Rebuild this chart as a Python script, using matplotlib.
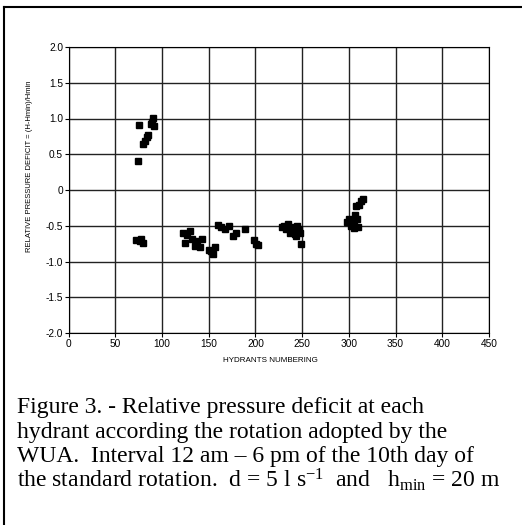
import numpy as np
from matplotlib import pyplot as plt
from matplotlib.lines import Line2D

plt.rcParams['font.family'] = ['Liberation Sans', 'DejaVu Sans']
plt.rcParams['mathtext.fontset'] = 'custom'
plt.rcParams['mathtext.rm'] = 'Liberation Serif'
plt.rcParams['mathtext.it'] = 'Liberation Serif:italic'

# hydrant number and relative pressure deficit
hyd_up = [74, 75, 80, 82, 84, 85, 88, 89, 90, 91]
dp_up = [0.41, 0.91, 0.65, 0.68, 0.74, 0.77, 0.92, 0.95, 1.01, 0.90]

hyd_low = [72, 76, 78, 80,
           122, 125, 127, 130, 132, 135, 138, 141, 143, 150, 152, 155, 157,
           160, 163, 167, 172, 176, 179, 189, 198, 201, 203,
           228, 231, 233, 235, 237, 238, 240, 242, 243, 245, 247, 248, 249,
           298, 300, 302, 305, 306, 307, 308, 309, 310, 311, 313, 315]
dp_low = [-0.70, -0.71, -0.69, -0.74,
          -0.60, -0.74, -0.63, -0.57, -0.68, -0.78, -0.71, -0.80, -0.69, -0.84, -0.86, -0.90, -0.80,
          -0.49, -0.52, -0.55, -0.50, -0.65, -0.60, -0.54, -0.70, -0.75, -0.77,
          -0.52, -0.50, -0.55, -0.48, -0.60, -0.52, -0.58, -0.62, -0.65, -0.50, -0.55, -0.60, -0.76,
          -0.45, -0.40, -0.50, -0.53, -0.45, -0.35, -0.22, -0.40, -0.52, -0.21, -0.15, -0.12]

xticks = np.arange(0, 451, 50)
yticks = [-2.0, -1.5, -1.0, -0.5, 0, 0.5, 1.0, 1.5, 2.0]
ylabels = ['-2.0', '-1.5', '-1.0', '-0.5', '0', '0.5', '1.0', '1.5', '2.0']

caption = ["Figure 3. - Relative pressure deficit at each",
           "hydrant according the rotation adopted by the",
           "WUA.  Interval 12 am \u2013 6 pm of the 10th day of",
           r"the standard rotation.  d = 5 l s$^{\mathregular{-1}}$  and   h$_{\mathregular{min}}$ = 20 m"]

W, H = 522, 525
fig = plt.figure(figsize=(W/100, H/100), dpi=100)
ax = fig.add_axes([68.5/W, 1-333/H, (489-68.5)/W, (333-47)/H])

ax.plot(hyd_up, dp_up, 's', color='black', markersize=5)
ax.plot(hyd_low, dp_low, 's', color='black', markersize=5)

ax.set_xlim(0, 450)
ax.set_ylim(-2, 2)
ax.set_xticks(xticks)
ax.set_yticks(yticks)
ax.set_yticklabels(ylabels)
ax.tick_params(labelsize=7.3, length=3, width=0.8, pad=1)
ax.grid(True, color='#222222', linewidth=1)
ax.set_axisbelow(True)
for s in ax.spines.values():
  s.set_linewidth(0.8)
ax.set_xlabel('HYDRANTS NUMBERING', fontsize=5.8)
ax.set_ylabel('RELATIVE PRESSURE DEFICIT = (H-Hmin)/Hmin', fontsize=5.5)
ax.xaxis.set_label_coords((270-68.5)/420.5, -0.085)
ax.yaxis.set_label_coords(-0.085, (333-166)/286)

for i, line in enumerate(caption):
  fig.text(17/W, 1-(413+i*24.6)/H, line, fontsize=17, family='Liberation Serif', va='baseline')

# frame around the figure (top and left edges visible)
fig.add_artist(Line2D([3.5/W, 3.5/W], [0, 1-6.5/H], color='black', linewidth=1.5, transform=fig.transFigure))
fig.add_artist(Line2D([3.5/W, 1], [1-6.5/H, 1-6.5/H], color='black', linewidth=1.5, transform=fig.transFigure))

fig.savefig('out.png', dpi=100)
